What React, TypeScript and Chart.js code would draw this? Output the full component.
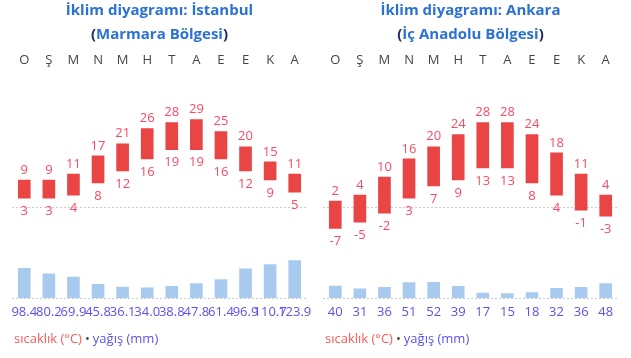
import React, { useEffect, useRef } from "react";
import { Chart, registerables } from "chart.js";

Chart.register(...registerables);

const months = ["O", "Ş", "M", "N", "M", "H", "T", "A", "E", "E", "K", "A"];

const istTitle = "İklim diyagramı: İstanbul";
const istRegion = "Marmara Bölgesi";
const istMax = [9, 9, 11, 17, 21, 26, 28, 29, 25, 20, 15, 11];
const istMin = [3, 3, 4, 8, 12, 16, 19, 19, 16, 12, 9, 5];
const istRain = [98.4, 80.2, 69.9, 45.8, 36.1, 34.0, 38.8, 47.8, 61.4, 96.9, 110.7, 123.9];
const istDecimals = 1;

const ankTitle = "İklim diyagramı: Ankara";
const ankRegion = "İç Anadolu Bölgesi";
const ankMax = [2, 4, 10, 16, 20, 24, 28, 28, 24, 18, 11, 4];
const ankMin = [-7, -5, -2, 3, 7, 9, 13, 13, 8, 4, -1, -3];
const ankRain = [40, 31, 36, 51, 52, 39, 17, 15, 18, 32, 36, 48];
const ankDecimals = 0;

const legendTemp = "sıcaklık (°C)";
const legendRain = "yağış (mm)";

const FONT = "'Open Sans', sans-serif";
const RED = "#e94545";
const RED_TXT = "#fb4a64";
const BLUE_BAR = "#a9caef";
const BLUE_TXT = "#5a52ee";
const TITLE = "#2b72d2";
const PAREN = "#1d2a63";

const W = 311;
const H = 358;

function drawSegments(ctx: any, segs: [string, string][], cx: number, y: number) {
  const total = segs.reduce((s, [t]) => s + ctx.measureText(t).width, 0);
  let x = cx - total / 2;
  for (const [t, c] of segs) {
    ctx.fillStyle = c;
    ctx.fillText(t, x, y);
    x += ctx.measureText(t).width;
  }
}

const overlayPlugin = {
  id: "overlay",
  beforeDatasetsDraw(chart: any) {
    const { ctx, chartArea, scales } = chart;
    ctx.save();
    ctx.strokeStyle = "#cfcac4";
    ctx.lineWidth = 1;
    ctx.setLineDash([2, 2]);
    for (const id of ["y", "y2"]) {
      const py = Math.round(scales[id].getPixelForValue(0)) + 0.5;
      ctx.beginPath();
      ctx.moveTo(chartArea.left, py);
      ctx.lineTo(chartArea.right, py);
      ctx.stroke();
    }
    ctx.restore();
  },
  afterDatasetsDraw(chart: any) {
    const { ctx } = chart;
    const meta = chart.getDatasetMeta(0);
    const data = chart.data.datasets[0].data as number[][];
    ctx.save();
    ctx.font = `13px ${FONT}`;
    ctx.fillStyle = RED_TXT;
    ctx.textAlign = "center";
    ctx.textBaseline = "middle";
    meta.data.forEach((el: any, i: number) => {
      const top = Math.min(el.y, el.base);
      const bot = Math.max(el.y, el.base);
      ctx.fillText(String(data[i][1]), el.x, top - 10);
      ctx.fillText(String(data[i][0]), el.x, bot + 13);
    });
    ctx.restore();
  },
  afterDraw(chart: any, _args: any, opts: any) {
    const { ctx, chartArea } = chart;
    ctx.save();
    const cx = (chartArea.left + chartArea.right) / 2;
    ctx.font = `bold 15px ${FONT}`;
    ctx.textAlign = "left";
    ctx.textBaseline = "alphabetic";
    drawSegments(ctx, [[opts.title, TITLE]], cx, 15);
    drawSegments(ctx, [["(", PAREN], [opts.region, TITLE], [")", PAREN]], cx, 39);
    ctx.font = `13px ${FONT}`;
    ctx.textBaseline = "middle";
    let x = 6;
    const y = 339;
    ctx.fillStyle = "#ff5757";
    ctx.fillText(legendTemp, x, y);
    x += ctx.measureText(legendTemp).width + 3;
    ctx.fillStyle = "#444";
    ctx.fillText("•", x, y);
    x += ctx.measureText("•").width + 3;
    ctx.fillStyle = BLUE_TXT;
    ctx.fillText(legendRain, x, y);
    ctx.restore();
  },
};

function Panel({ title, region, maxs, mins, rain, decimals, left }: { title: string; region: string; maxs: number[]; mins: number[]; rain: number[]; decimals: number; left: number }) {
  const ref = useRef<HTMLCanvasElement>(null);
  useEffect(() => {
    const noPad = (s: any) => {
      s.paddingLeft = 0;
      s.paddingRight = 0;
    };
    const chart = new Chart(ref.current as HTMLCanvasElement, {
      type: "bar",
      data: {
        labels: months,
        datasets: [
          {
            data: mins.map((m, i) => [m, maxs[i]]) as any,
            backgroundColor: RED,
            borderWidth: 0,
            barThickness: 12,
            grouped: false,
            xAxisID: "x",
            yAxisID: "y",
          },
          {
            data: rain,
            backgroundColor: BLUE_BAR,
            borderWidth: 0,
            barThickness: 12,
            grouped: false,
            xAxisID: "x",
            yAxisID: "y2",
          },
        ],
      },
      options: {
        animation: false,
        responsive: false,
        devicePixelRatio: 1,
        layout: { padding: { left: 4, right: 12, top: 50, bottom: 32.3 } },
        plugins: {
          legend: { display: false },
          tooltip: { enabled: false },
          title: { display: false },
          overlay: { title, region },
        } as any,
        scales: {
          x: {
            position: "top",
            offset: true,
            grid: { display: false },
            border: { display: false },
            afterFit: noPad,
            ticks: { color: "#444", font: { family: FONT, size: 13 }, padding: 2, autoSkip: false, maxRotation: 0 },
          },
          x2: {
            type: "category",
            labels: rain.map((v) => v.toFixed(decimals)),
            position: "bottom",
            offset: true,
            grid: { display: false, drawTicks: false },
            border: { display: false },
            afterFit: noPad,
            ticks: { color: BLUE_TXT, font: { family: FONT, size: 13 }, padding: 6, autoSkip: false, maxRotation: 0 },
          },
          y: { display: false, min: -30.1, max: 42.9 },
          y2: { display: false, min: 0, max: 730 },
        },
      },
      plugins: [overlayPlugin],
    });
    return () => chart.destroy();
  }, []);
  return (
    <div style={{ position: "absolute", left, top: 0, width: W, height: H }}>
      <canvas ref={ref} width={W} height={H} style={{ width: W, height: H, display: "block" }} />
    </div>
  );
}

export default function App() {
  return (
    <div style={{ position: "fixed", left: 0, top: 0, width: 631, height: 358, background: "#fff" }}>
      <Panel title={istTitle} region={istRegion} maxs={istMax} mins={istMin} rain={istRain} decimals={istDecimals} left={8} />
      <Panel title={ankTitle} region={ankRegion} maxs={ankMax} mins={ankMin} rain={ankRain} decimals={ankDecimals} left={319} />
    </div>
  );
}
